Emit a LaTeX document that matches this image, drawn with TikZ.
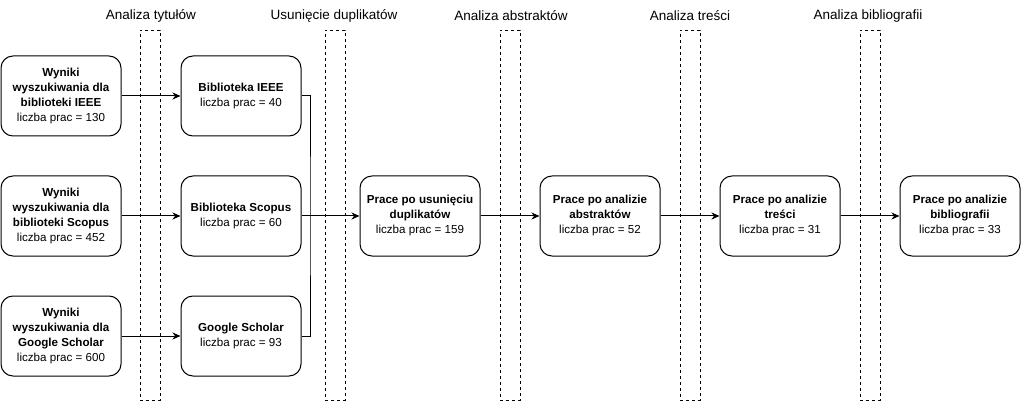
\documentclass[tikz,border=0pt]{standalone}
\usepackage{fontspec}
\setmainfont{Liberation Sans}
\usetikzlibrary{arrows.meta}
\begin{document}
\begin{tikzpicture}[x=1pt,y=-1pt,
  box/.style={draw,line width=1pt,rounded corners=12pt,minimum width=120pt,minimum height=80pt,inner sep=0pt,align=center,font=\fontsize{11.6}{15}\selectfont},
  strip/.style={draw,dash pattern=on 3pt off 3pt,line width=0.8pt,minimum width=20pt,minimum height=370pt,inner sep=0pt},
  ttl/.style={font=\fontsize{13.5}{15}\selectfont},
  arr/.style={line width=1pt,-{Stealth[length=8pt,width=7pt,inset=2.5pt]}},
  ln/.style={line width=1pt}]
\useasboundingbox (0,0) rectangle (1021,401);
% strips
\node[strip] (s1) at (150,215) {};
\node[strip] (s2) at (335,215) {};
\node[strip] (s3) at (510,215) {};
\node[strip] (s4) at (690,215) {};
\node[strip] (s5) at (870,215) {};
% titles
\node[ttl] (t1) at (151,16) {Analiza tytułów};
\node[ttl] (t2) at (334,16) {Usunięcie duplikatów};
\node[ttl] (t3) at (511,16) {Analiza abstraktów};
\node[ttl] (t4) at (690,16) {Analiza treści};
\node[ttl] (t5) at (868,16) {Analiza bibliografii};
% source boxes
\node[box] (a1) at (61,96) {\textbf{Wyniki}\\\textbf{wyszukiwania dla}\\\textbf{biblioteki IEEE}\\liczba prac = 130};
\node[box] (a2) at (61,216) {\textbf{Wyniki}\\\textbf{wyszukiwania dla}\\\textbf{biblioteki Scopus}\\liczba prac = 452};
\node[box] (a3) at (61,336) {\textbf{Wyniki}\\\textbf{wyszukiwania dla}\\\textbf{Google Scholar}\\liczba prac = 600};
% libraries
\node[box] (b1) at (241,96) {\textbf{Biblioteka IEEE}\\liczba prac = 40};
\node[box] (b2) at (241,216) {\textbf{Biblioteka Scopus}\\liczba prac = 60};
\node[box] (b3) at (241,336) {\textbf{Google Scholar}\\liczba prac = 93};
% chain
\node[box] (c1) at (420,216) {\textbf{Prace po usunięciu}\\\textbf{duplikatów}\\liczba prac = 159};
\node[box] (c2) at (600,216) {\textbf{Prace po analizie}\\\textbf{abstraktów}\\liczba prac = 52};
\node[box] (c3) at (780,216) {\textbf{Prace po analizie}\\\textbf{treści}\\liczba prac = 31};
\node[box] (c4) at (960,216) {\textbf{Prace po analizie}\\\textbf{bibliografii}\\liczba prac = 33};
\coordinate (m) at (310,216);
% connectors
\draw[arr] (a1.east) -- (b1.west);
\draw[arr] (a2.east) -- (b2.west);
\draw[arr] (a3.east) -- (b3.west);
\draw[ln] (b1.east) -| (m) |- (b3.east);
\draw[arr] (b2.east) -- (c1.west);
\draw[arr] (c1.east) -- (c2.west);
\draw[arr] (c2.east) -- (c3.west);
\draw[arr] (c3.east) -- (c4.west);
\end{tikzpicture}
\end{document}
